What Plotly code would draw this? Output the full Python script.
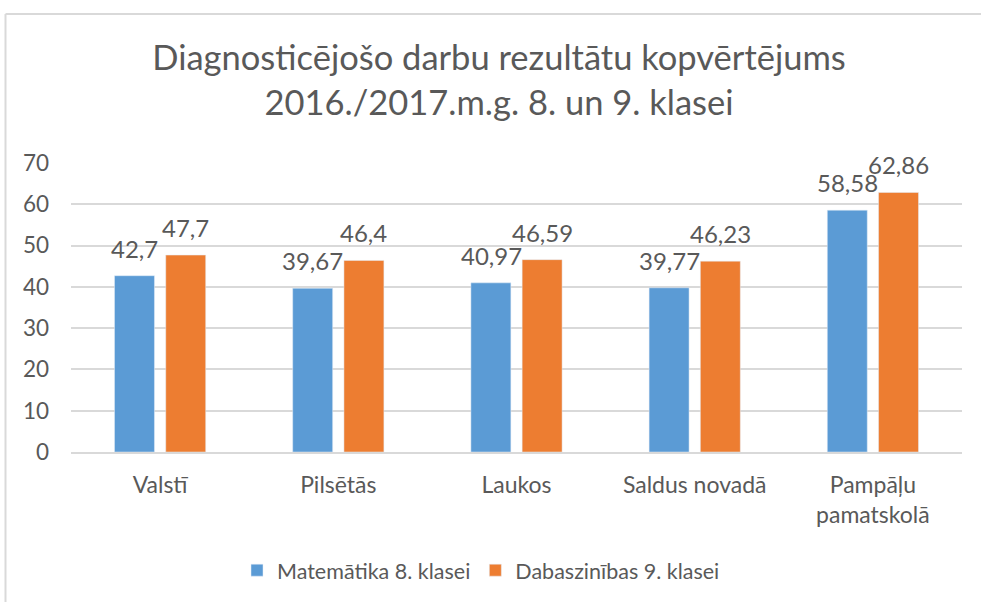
import plotly.graph_objects as go

categories = ["Valstī", "Pilsētās", "Laukos", "Saldus novadā", "Pampāļu<br>pamatskolā"]
math_8 = [42.7, 39.67, 40.97, 39.77, 58.58]
science_9 = [47.7, 46.4, 46.59, 46.23, 62.86]
series_names = ["Matemātika 8. klasei", "Dabaszinības 9. klasei"]
y_ticks = [0, 10, 20, 30, 40, 50, 60, 70]

FONT = "Lato"
GRAY = "#595959"
BLUE = "#5B9BD5"
ORANGE = "#ED7D31"

fig = go.Figure()
fig.add_trace(go.Bar(x=categories, y=math_8, name=series_names[0], marker_color=BLUE))
fig.add_trace(go.Bar(x=categories, y=science_9, name=series_names[1], marker_color=ORANGE))

def fmt(v):
    return str(v).replace(".", ",")

annotations = []
for vals, shift in ((math_8, -25.5), (science_9, 25.5)):
    for cat, v in zip(categories, vals):
        annotations.append(dict(x=cat, y=v, text=fmt(v), xref="x", yref="y", showarrow=False,
                                xanchor="center", yanchor="bottom", xshift=shift, yshift=11,
                                font=dict(family=FONT, size=24, color=GRAY)))

W, H = 981, 602
L, R, T, B = 71, W - 962, 163, H - 454
pw, ph = W - L - R, H - T - B
bx = (5.5 - L) / pw
by = 1 + (T - 13) / ph

fig.update_layout(
    width=W, height=H,
    margin=dict(l=L, r=R, t=T, b=B),
    paper_bgcolor="white", plot_bgcolor="white",
    font=dict(family=FONT, color=GRAY, size=21),
    title=dict(text="Diagnosticējošo darbu rezultātu kopvērtējums<br>2016./2017.m.g. 8. un 9. klasei",
               x=499 / W, xanchor="center", xref="container",
               y=1 - 70 / H, yanchor="top", yref="container",
               font=dict(family=FONT, size=34.5, color=GRAY)),
    barmode="group", bargap=0.425, bargroupgap=0.22,
    showlegend=True,
    legend=dict(orientation="h", x=(481 - L) / pw, xanchor="center",
                y=1 - (573 - T) / ph, yanchor="middle",
                font=dict(family=FONT, size=21.5, color=GRAY)),
    xaxis=dict(showgrid=False, showline=True, linecolor="#D9D9D9", linewidth=1.5,
               tickfont=dict(family=FONT, size=23, color=GRAY), ticklabelstandoff=12),
    yaxis=dict(range=[0, 70], tickvals=y_ticks, showgrid=True, gridcolor="#D9D9D9", gridwidth=1.5,
               zeroline=False, showline=False,
               tickfont=dict(family=FONT, size=22.5, color=GRAY), ticklabelstandoff=21),
    annotations=annotations,
    shapes=[
        dict(type="line", xref="paper", yref="paper", x0=bx, x1=bx, y0=-1, y1=by,
             line=dict(color="#D9D9D9", width=2)),
        dict(type="line", xref="paper", yref="paper", x0=bx, x1=1.1, y0=by, y1=by,
             line=dict(color="#D9D9D9", width=2)),
    ],
)

# remove the browser's default 8px body margin so the figure sits at the page origin
fig.write_html("out.html", config={"displayModeBar": False},
               post_script="document.body.style.margin='0px';")
